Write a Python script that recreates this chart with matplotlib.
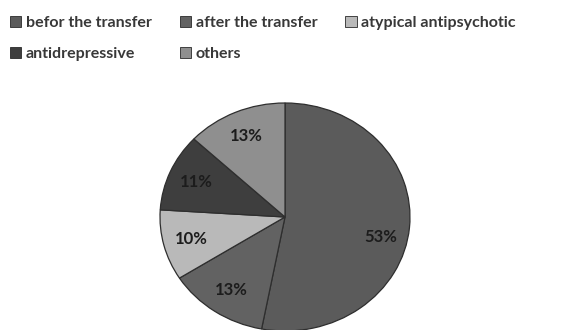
import matplotlib
matplotlib.use("Agg")
import matplotlib.pyplot as plt
from matplotlib.patches import Patch

categories = ["befor the transfer", "after the transfer", "atypical antipsychotic",
              "antidrepressive", "others"]
values = [53, 13, 10, 11, 13]
colors = ["#5b5b5b", "#626262", "#b9b9b9", "#3e3e3e", "#8f8f8f"]

plt.rcParams["font.family"] = ["Lato", "DejaVu Sans"]

fig = plt.figure(figsize=(5.7, 3.3), dpi=100)
fig.patch.set_facecolor("white")

# pie axes, slightly flattened vertically and running past the bottom edge
ax = fig.add_axes([160 / 570, -1 / 330, 250 / 570, 228 / 330])
wedges, texts = ax.pie(
    values, colors=colors, startangle=90, counterclock=False,
    labels=[f"{v}%" for v in values], labeldistance=0.77,
    wedgeprops=dict(edgecolor="#2e2e2e", linewidth=0.9),
    textprops=dict(fontsize=12, fontweight="bold", color="#1c1c1c",
                   ha="center", va="center"),
)
for t in texts:
    t.set_ha("center")
    t.set_va("center")
# the large slice's label sits a bit lower than its mid-angle
x, y = texts[0].get_position()
texts[0].set_position((x, y - 0.1))

ax.set_aspect("auto")
ax.set_xlim(-1.0, 1.0)
ax.set_ylim(-1.0, 1.0)
ax.axis("off")

# legend laid out row by row: 3 entries on the first row, 2 on the second
handles = [Patch(facecolor=c, edgecolor="#2a2a2a", linewidth=0.6) for c in colors]
order = [0, 3, 1, 4, 2]
fig.legend([handles[i] for i in order], [categories[i] for i in order],
           ncol=3, loc="upper left",
           bbox_to_anchor=(-0.002, 0.985), frameon=False,
           prop=dict(size=11.5, weight="bold"), labelcolor="#383838",
           handlelength=0.7, handleheight=0.7, handletextpad=0.3,
           columnspacing=1.75, labelspacing=1.05, borderaxespad=0.3)

fig.savefig("out.png", dpi=100, facecolor="white")
